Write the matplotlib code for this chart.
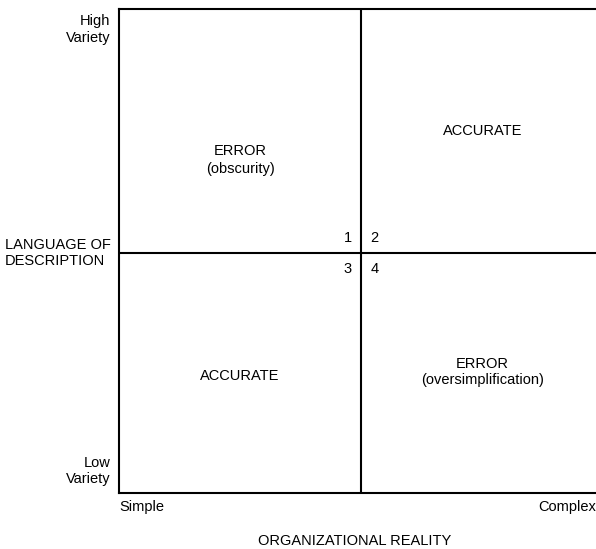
import matplotlib.pyplot as plt

plt.rcParams['font.family'] = ['Liberation Sans', 'DejaVu Sans']

# quadrant data: (x centre, y centre, label)
quad_x = [0.5, 1.5, 0.5, 1.5]
quad_labels = ['ERROR\n(obscurity)', 'ACCURATE', 'ACCURATE', 'ERROR\n(oversimplification)']
quad_label_y = [1.375, 1.495, 0.485, 0.5]
quad_spacing = [1.35, 1.2, 1.2, 1.25]
quad_numbers = ['1', '2', '3', '4']

x_ticks = ['Simple', 'Complex']
y_ticks = ['Low\nVariety', 'High\nVariety']
x_title = 'ORGANIZATIONAL REALITY'
y_title = 'LANGUAGE OF\nDESCRIPTION'

FS = 10.5

fig = plt.figure(figsize=(5.96, 5.49), dpi=100)
ax = fig.add_axes([119 / 596, 56 / 549, 477 / 596, 484 / 549])
ax.set_xlim(0, 1.97)
ax.set_ylim(0, 2)

for s in ['left', 'top', 'bottom']:
    ax.spines[s].set_linewidth(1.5)
ax.spines['right'].set_visible(False)
ax.set_xticks([])
ax.set_yticks([])

# dividing lines
ax.axvline(1, color='black', lw=1.5)
ax.axhline(0.99, color='black', lw=1.5)

for x, y, lab, ls in zip(quad_x, quad_label_y, quad_labels, quad_spacing):
    ax.text(x, y, lab, ha='center', va='center', fontsize=FS, linespacing=ls)

# quadrant numbers around the centre
off = [(-1, 1), (1, 1), (-1, -1), (1, -1)]
for (dx, dy), n in zip(off, quad_numbers):
    ax.text(1 + dx * 0.055, 0.99 + dy * 0.065, n, ha='center', va='center', fontsize=FS)

# axis end labels
ax.text(-0.035, 1.915, y_ticks[1], ha='right', va='center', fontsize=FS, linespacing=1.2)
ax.text(-0.035, 0.09, y_ticks[0], ha='right', va='center', fontsize=FS, linespacing=1.2)
ax.text(0.0, -0.03, x_ticks[0], ha='left', va='top', fontsize=FS)
ax.text(1.97, -0.03, x_ticks[1], ha='right', va='top', fontsize=FS)

fig.text(5 / 596, 1 - 253 / 549, y_title, ha='left', va='center', fontsize=FS, linespacing=1.25)
fig.text(355 / 596, 1 - 541 / 549, x_title, ha='center', va='center', fontsize=FS)

fig.savefig('out.png', dpi=100, facecolor='white')
